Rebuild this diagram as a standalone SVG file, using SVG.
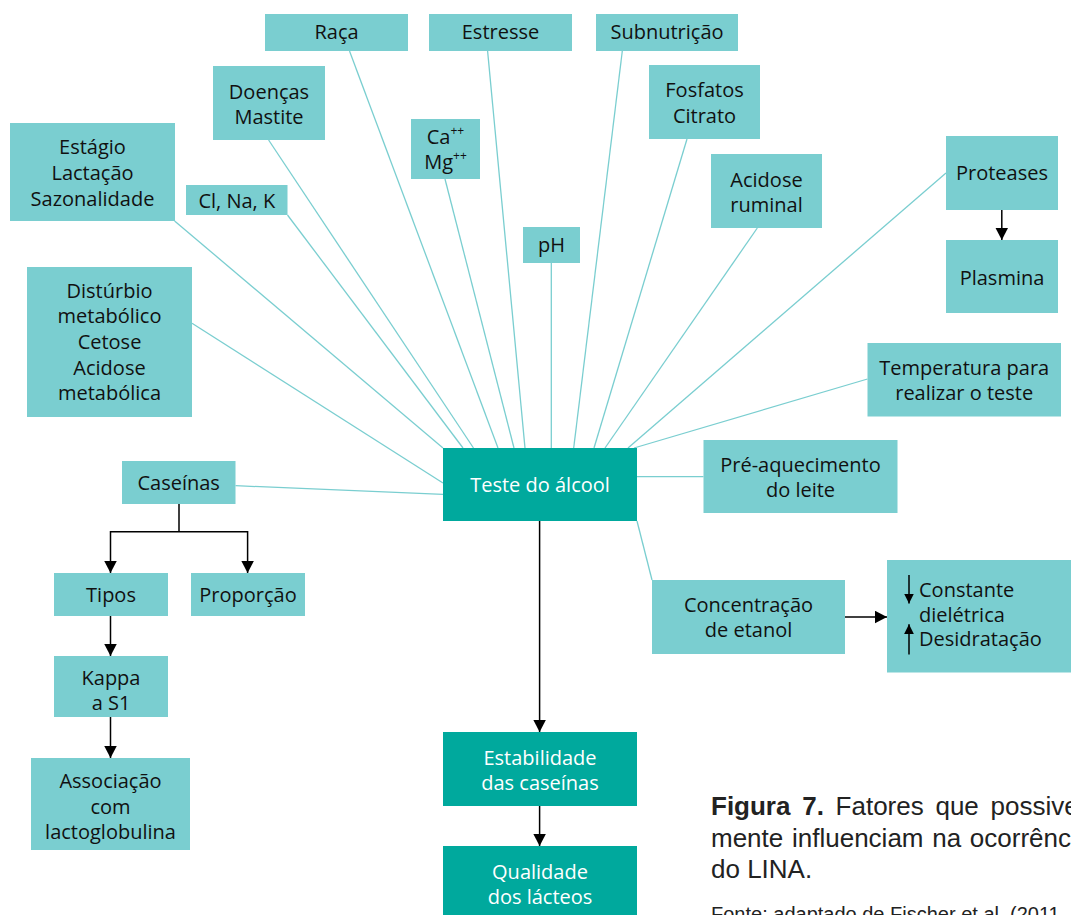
<svg xmlns="http://www.w3.org/2000/svg" width="1071" height="915" viewBox="0 0 1071 915">
<defs>
<style>
.n{fill:#7ACED0}
.d{fill:#00A99D}
.t{font-family:"Open Sans","Liberation Sans",sans-serif;font-size:20px;fill:#111;text-anchor:middle}
.w{fill:#fff}
.l{font-family:"Open Sans","Liberation Sans",sans-serif;font-size:20px;fill:#111}
.c{stroke:#7ACED0;stroke-width:1.3;fill:none}
.a{stroke:#000;stroke-width:1.5;fill:none}
.cap{font-family:"Liberation Sans",Arial,sans-serif;font-size:26px;fill:#222}
.src{font-family:"Liberation Sans",Arial,sans-serif;font-size:20px;fill:#222}
</style>
<marker id="ah" markerUnits="userSpaceOnUse" markerWidth="13" markerHeight="13" refX="12" refY="6.25" orient="auto"><path d="M0,0 L12,6.25 L0,12.5 z" fill="#000"/></marker>
<marker id="as" markerUnits="userSpaceOnUse" markerWidth="11" markerHeight="11" refX="10" refY="5" orient="auto"><path d="M0,0 L10,5 L0,10 z" fill="#000"/></marker>
</defs>
<rect width="1071" height="915" fill="#fff"/>
<g id="connectors">
<path class="c" d="M349.5,51 L498,448"/>
<path class="c" d="M487.6,51 L525,448"/>
<path class="c" d="M622.3,51 L573.7,448"/>
<path class="c" d="M268.6,140 L473.5,448"/>
<path class="c" d="M687,139 L594,448"/>
<path class="c" d="M174.6,221 L443,448"/>
<path class="c" d="M287.5,215 L463,448"/>
<path class="c" d="M445,179 L514,448"/>
<path class="c" d="M551.3,263 L551.3,448"/>
<path class="c" d="M757.3,228 L605,448"/>
<path class="c" d="M946,173 L628,448"/>
<path class="c" d="M867.5,379 L634,448"/>
<path class="c" d="M192,323.3 L443,483"/>
<path class="c" d="M235.5,485.7 L443,494.3"/>
<path class="c" d="M637,476.7 L703.5,476.7"/>
<path class="c" d="M637,521 L652,580"/>
<path class="a" d="M179,504 L179,531.7 M110.5,531.7 L247.6,531.7"/>
<path class="a" d="M110.5,531 L110.5,573" marker-end="url(#ah)"/>
<path class="a" d="M247.6,531 L247.6,573" marker-end="url(#ah)"/>
<path class="a" d="M110.5,616 L110.5,656" marker-end="url(#ah)"/>
<path class="a" d="M110.5,717 L110.5,758" marker-end="url(#ah)"/>
<path class="a" d="M539.6,521 L539.6,732" marker-end="url(#ah)"/>
<path class="a" d="M539.6,806 L539.6,846" marker-end="url(#ah)"/>
<path class="a" d="M1001.8,210 L1001.8,240" marker-end="url(#ah)"/>
<path class="a" d="M845,617 L887,617" marker-end="url(#ah)"/>
</g>
<g id="raca"><rect class="n" x="265" y="14" width="143" height="37"/><text class="t" x="336.5" y="39">Raça</text></g>
<g id="estresse"><rect class="n" x="429" y="14" width="143" height="37"/><text class="t" x="500.5" y="39">Estresse</text></g>
<g id="subnutricao"><rect class="n" x="596" y="14" width="142" height="37"/><text class="t" x="667" y="39">Subnutrição</text></g>
<g id="doencas"><rect class="n" x="213" y="66" width="112" height="74"/><text class="t" x="269" y="98.7">Doenças</text><text class="t" x="269" y="124.3">Mastite</text></g>
<g id="fosfatos"><rect class="n" x="649" y="65" width="111" height="74"/><text class="t" x="704.5" y="97">Fosfatos</text><text class="t" x="704.5" y="122.7">Citrato</text></g>
<g id="estagio"><rect class="n" x="10" y="123" width="165" height="98"/><text class="t" x="92.5" y="153.7">Estágio</text><text class="t" x="92.5" y="179.7">Lactação</text><text class="t" x="92.5" y="205.7">Sazonalidade</text></g>
<g id="camg"><rect class="n" x="411" y="119" width="69" height="60"/><text class="t" x="445.5" y="143.7">Ca<tspan font-size="12" dy="-9">++</tspan></text><text class="t" x="445.5" y="168.7">Mg<tspan font-size="12" dy="-9">++</tspan></text></g>
<g id="clnak"><rect class="n" x="186" y="185" width="101.5" height="30"/><text class="t" x="236.8" y="208">Cl, Na, K</text></g>
<g id="acidose-ruminal"><rect class="n" x="711" y="154" width="111" height="74"/><text class="t" x="766.5" y="187">Acidose</text><text class="t" x="766.5" y="212">ruminal</text></g>
<g id="ph"><rect class="n" x="523" y="227" width="57" height="36"/><text class="t" x="551.5" y="252">pH</text></g>
<g id="proteases"><rect class="n" x="946" y="136" width="112" height="74"/><text class="t" x="1002" y="180.3">Proteases</text></g>
<g id="plasmina"><rect class="n" x="946" y="240" width="112" height="73"/><text class="t" x="1002" y="285.3">Plasmina</text></g>
<g id="disturbio"><rect class="n" x="27" y="267" width="165" height="150"/><text class="t" x="109.5" y="297.7">Distúrbio</text><text class="t" x="109.5" y="323.3">metabólico</text><text class="t" x="109.5" y="349">Cetose</text><text class="t" x="109.5" y="374.7">Acidose</text><text class="t" x="109.5" y="400.3">metabólica</text></g>
<g id="temperatura"><rect class="n" x="867.5" y="343" width="193.5" height="73.5"/><text class="t" x="964.2" y="375.3">Temperatura para</text><text class="t" x="964.2" y="400.3">realizar o teste</text></g>
<g id="caseinas"><rect class="n" x="122" y="461" width="113.5" height="43"/><text class="t" x="178.7" y="490.3">Caseínas</text></g>
<g id="teste"><rect class="d" x="443" y="448" width="194" height="73"/><text class="t w" x="540" y="492">Teste do álcool</text></g>
<g id="preaquecimento"><rect class="n" x="703.5" y="440" width="194" height="73"/><text class="t" x="800.5" y="472">Pré-aquecimento</text><text class="t" x="800.5" y="497">do leite</text></g>
<g id="tipos"><rect class="n" x="54" y="573" width="114" height="43"/><text class="t" x="111" y="602">Tipos</text></g>
<g id="proporcao"><rect class="n" x="191" y="573" width="114" height="43"/><text class="t" x="248" y="602">Proporção</text></g>
<g id="kappa"><rect class="n" x="54" y="656" width="114" height="61"/><text class="t" x="111" y="685.3">Kappa</text><text class="t" x="111" y="710.3">a S1</text></g>
<g id="associacao"><rect class="n" x="31" y="758" width="159" height="92"/><text class="t" x="110.5" y="787.7">Associação</text><text class="t" x="110.5" y="813.7">com</text><text class="t" x="110.5" y="839">lactoglobulina</text></g>
<g id="concentracao"><rect class="n" x="652" y="580" width="193" height="74"/><text class="t" x="748.5" y="612">Concentração</text><text class="t" x="748.5" y="637">de etanol</text></g>
<g id="constante"><rect class="n" x="887" y="560" width="190" height="112.5"/>
<path class="a" d="M909,575 L909,603.5" marker-end="url(#as)"/>
<path class="a" d="M909,654.5 L909,624.3" marker-end="url(#as)"/>
<text class="l" x="919" y="596.7">Constante</text><text class="l" x="919" y="621.7">dielétrica</text><text class="l" x="919" y="645.7">Desidratação</text></g>
<g id="estabilidade"><rect class="d" x="443" y="732" width="194" height="74"/><text class="t w" x="540" y="765.3">Estabilidade</text><text class="t w" x="540" y="790.3">das caseínas</text></g>
<g id="qualidade"><rect class="d" x="443" y="846" width="194" height="72"/><text class="t w" x="540" y="878.7">Qualidade</text><text class="t w" x="540" y="903.7">dos lácteos</text></g>
<g id="caption">
<text class="cap" x="711" y="815" word-spacing="4.5"><tspan font-weight="bold">Figura 7.</tspan> Fatores que possive</text>
<text class="cap" x="711" y="846.7" word-spacing="1.5">mente influenciam na ocorrênc</text>
<text class="cap" x="711" y="878.3">do LINA.</text>
<text class="src" x="711" y="921">Fonte: adaptado de Fischer et al. (2011</text>
</g>
</svg>
